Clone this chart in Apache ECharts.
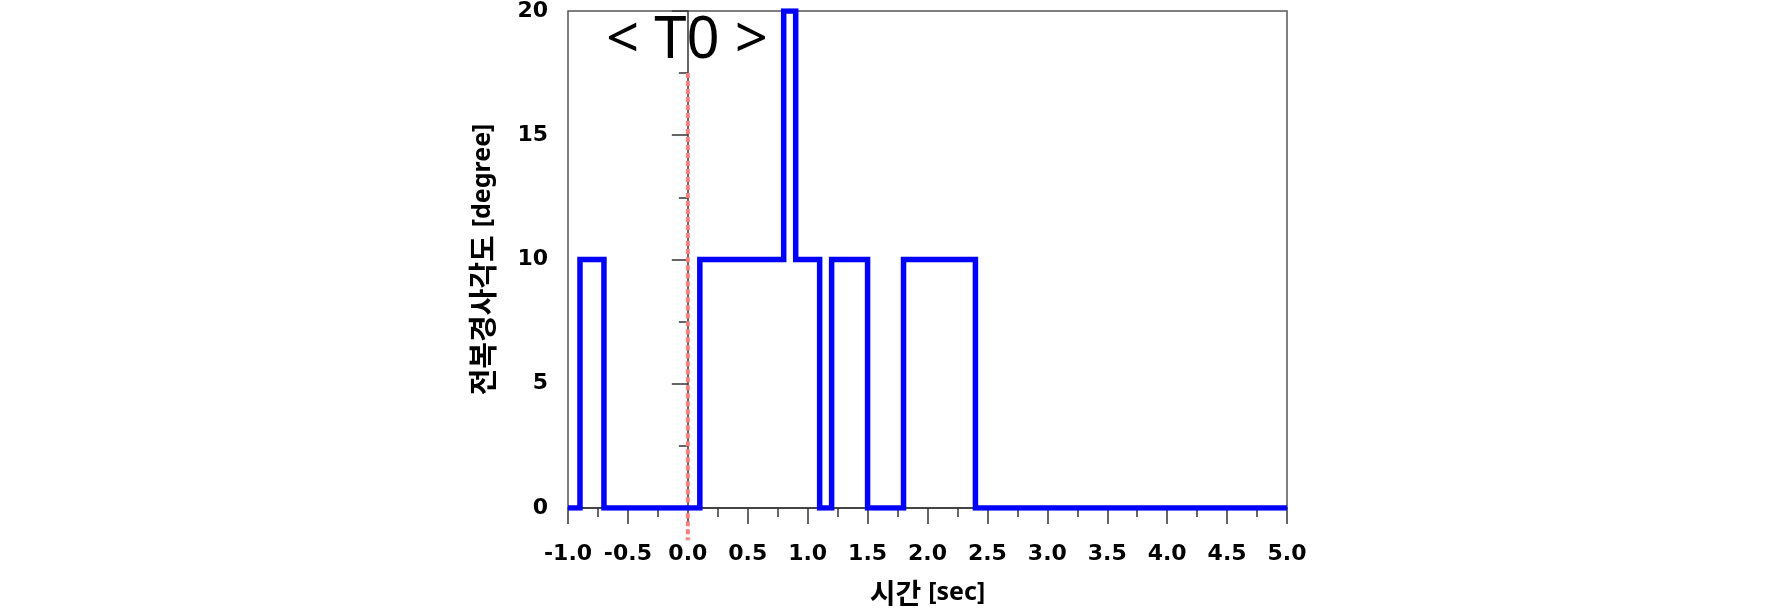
<!DOCTYPE html>
<html><head><meta charset="utf-8">
<script src="https://cdn.jsdelivr.net/npm/echarts@6/dist/echarts.min.js"></script>
<style>html,body{margin:0;padding:0;background:#fff}#c{width:1772px;height:612px}</style>
</head><body><div id="c"></div>
<script>
// transition times (sec) and the angle value holding from that time on
const times  = [-1.0, -0.9, -0.7, 0.1, 0.8, 0.9, 1.1, 1.2, 1.5, 1.8, 2.4, 5.0];
const angles = [0,    10,   0,    10,  20,  10,  0,   10,  0,   10,  0,   0];
const t0Line = [[0, 17.5], [0, -1.3]];
const xTitle = '시간';
const xUnit = '[sec]';
const yTitle = '전복경사각도';
const yUnit = '[degree]';
const t0Label = '< T0 >';

const chart = echarts.init(document.getElementById('c'));
const labelFont = {fontFamily: 'DejaVu Sans', fontWeight: 'bold', fontSize: 22, color: '#000'};
const tickStyle = {color: '#333', width: 1.5};
chart.setOption({
  animation: false,
  backgroundColor: '#fff',
  title: {
    text: t0Label, left: 682, top: 7, textAlign: 'center',
    textStyle: {fontFamily: 'Noto Sans', fontWeight: 'normal', fontSize: 58, color: '#000'}
  },
  grid: {left: 568, right: 485, top: 9.5, bottom: 104, show: true, borderColor: '#555', borderWidth: 1.5},
  xAxis: {
    type: 'value', min: -1, max: 5, interval: 0.5,
    name: '{a|' + xTitle + '}{s|}{b|' + xUnit + '}', nameLocation: 'middle', nameGap: 71,
    nameTextStyle: {rich: {
      a: {fontFamily: 'Noto Sans CJK KR', fontWeight: 'bold', fontSize: 28, color: '#000'},
      s: {width: 7},
      b: {fontFamily: 'Noto Sans', fontWeight: 'bold', fontSize: 25, color: '#000'}}},
    axisLine: {show: true, lineStyle: tickStyle},
    axisTick: {show: true, inside: false, length: 16, lineStyle: tickStyle},
    minorTick: {show: true, splitNumber: 2, length: 9, lineStyle: tickStyle},
    splitLine: {show: false},
    axisLabel: Object.assign({margin: 35, formatter: v => v.toFixed(1)}, labelFont)
  },
  yAxis: {
    type: 'value', min: 0, max: 20, interval: 5,
    name: '{a|' + yTitle + '}{s|}{b|' + yUnit + '}', nameLocation: 'middle', nameGap: 71,
    nameTextStyle: {rich: {
      a: {fontFamily: 'Noto Sans CJK KR', fontWeight: 'bold', fontSize: 29, color: '#000'},
      s: {width: 8},
      b: {fontFamily: 'Noto Sans', fontWeight: 'bold', fontSize: 25, color: '#000'}}},
    axisLine: {show: true, lineStyle: tickStyle},
    axisTick: {show: true, inside: false, length: 16, lineStyle: tickStyle},
    minorTick: {show: true, splitNumber: 2, length: 9, lineStyle: tickStyle},
    splitLine: {show: false},
    axisLabel: Object.assign({margin: 20}, labelFont)
  },
  series: [
    {
      type: 'line', step: 'end', showSymbol: false,
      data: times.map((t, i) => [t, angles[i]]),
      lineStyle: {color: '#0000FF', width: 5.5, join: 'miter'}
    },
    {
      type: 'line', showSymbol: false, clip: false, z: 1,
      data: t0Line,
      lineStyle: {color: '#FF7F7F', width: 4, type: [5, 3]}
    }
  ]
});
</script></body></html>
